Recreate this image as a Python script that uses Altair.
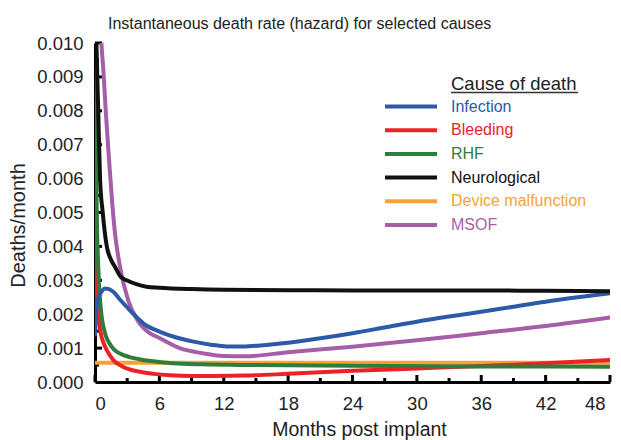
import altair as alt
import pandas as pd

# ---------------- data ----------------
causes = ["Infection", "Bleeding", "RHF", "Neurological", "Device malfunction", "MSOF"]
colors = ["#2c5aa8", "#ec2227", "#2f7d3b", "#111111", "#f9a231", "#a65ea9"]

infection_t = [0, 0.15, 0.35, 0.6, 0.93, 1.3, 1.7, 2.3, 2.95, 3.7, 4.5, 6.06, 7.5, 9.2,
               10.8, 12.3, 13.8, 15.4, 18, 21, 24, 27, 30, 33, 36, 39, 42, 45, 48]
infection_v = [0.00140, 0.00222, 0.00252, 0.00266, 0.00276, 0.00274, 0.00266, 0.00244,
               0.00222, 0.00197, 0.00173, 0.00148, 0.00132, 0.00119, 0.00110, 0.00105,
               0.00105, 0.00108, 0.00116, 0.00129, 0.00144, 0.00161, 0.00178, 0.00193,
               0.00207, 0.00222, 0.00237, 0.00250, 0.00262]

bleeding_t = [0, 0.04, 0.08, 0.12, 0.17, 0.3, 0.53, 0.8, 1.1, 1.7, 2.6, 4.2, 5.5, 7, 9,
              11, 14, 18, 24, 30, 36, 42, 48]
bleeding_v = [0.0110, 0.0090, 0.0060, 0.0038, 0.0027, 0.0020, 0.00144, 0.00115, 0.00094,
              0.00065, 0.00045, 0.00030, 0.00024, 0.00020, 0.00018, 0.00018, 0.00019,
              0.00024, 0.00033, 0.00040, 0.00047, 0.00055, 0.00065]

rhf_t = [0, 0.08, 0.15, 0.2, 0.28, 0.37, 0.5, 0.62, 0.93, 1.2, 1.55, 2.0, 2.6, 3.5, 4.5,
         6, 7.3, 10, 15, 24, 36, 48]
rhf_v = [0.0082, 0.0065, 0.0053, 0.0044, 0.0036, 0.0029, 0.0023, 0.00193, 0.00144,
         0.00122, 0.00104, 0.00090, 0.00080, 0.00071, 0.00065, 0.00059, 0.00055, 0.00052,
         0.00050, 0.00048, 0.00046, 0.00045]

neuro_t = [0, 0.15, 0.3, 0.47, 0.72, 1.1, 1.5, 1.86, 2.4, 2.95, 4, 4.8, 6, 9, 12, 18, 24,
           30, 36, 42, 48]
neuro_v = [0.0120, 0.0098, 0.0080, 0.0060, 0.0050, 0.0040, 0.0036, 0.0034, 0.0031, 0.0030,
           0.00287, 0.00281, 0.00278, 0.00274, 0.00272, 0.00271, 0.00270, 0.00270,
           0.00270, 0.00269, 0.00268]

device_t = [0, 12, 24, 36, 48]
device_v = [0.00057, 0.00057, 0.00057, 0.00057, 0.00057]

msof_t = [0.3, 0.6, 0.8, 1.0, 1.3, 1.6, 1.86, 2.33, 3.1, 4.0, 5.1, 6.0, 7.9, 10, 12, 14,
          18, 24, 30, 36, 42, 48]
msof_v = [0.0125, 0.0100, 0.0091, 0.0080, 0.0066, 0.0053, 0.0044, 0.0034, 0.0024, 0.0018,
          0.00144, 0.00130, 0.00100, 0.00085, 0.00077, 0.00076, 0.00088, 0.00104, 0.00123,
          0.00144, 0.00165, 0.00190]

x_ticks_major = [0, 6, 12, 18, 24, 30, 36, 42, 48]
x_ticks_minor = [3, 9, 15, 21, 27, 33, 39, 45]
y_ticks_major = [0.001, 0.002, 0.003, 0.004, 0.005, 0.006, 0.007, 0.008, 0.009, 0.010]
y_ticks_minor = [0.0005, 0.0015, 0.0025, 0.0035, 0.0045, 0.0055, 0.0065, 0.0075, 0.0085, 0.0095]
y_labels = [0, 0.001, 0.002, 0.003, 0.004, 0.005, 0.006, 0.007, 0.008, 0.009, 0.010]

title_text = "Instantaneous death rate (hazard) for selected causes"
legend_title = "Cause of death"

# ---------------- build tables (drawing order: first = bottom) ----------------
series = {
    "Device malfunction": (device_t, device_v),
    "Bleeding": (bleeding_t, bleeding_v),
    "RHF": (rhf_t, rhf_v),
    "MSOF": (msof_t, msof_v),
    "Infection": (infection_t, infection_v),
    "Neurological": (neuro_t, neuro_v),
}
df = pd.concat(
    [pd.DataFrame({"cause": k, "t": t, "v": v}) for k, (t, v) in series.items()],
    ignore_index=True,
)
legend_df = pd.DataFrame({"cause": causes})
legend_title_df = pd.DataFrame({"label": [legend_title]})

FONT = "Liberation Sans"
W, H = 515, 339

x_scale = alt.Scale(domain=[0, 48], nice=False, zero=False)
y_scale = alt.Scale(domain=[0, 0.010], nice=False)
color_scale = alt.Scale(domain=causes, range=colors)

x_axis = alt.Axis(values=x_ticks_major, title="Months post implant", ticks=False,
                  domainWidth=3, domainColor="#000", labelFontSize=18.5, labelPadding=12,
                  labelColor="#222", titleFontSize=19.5, titleFontWeight="normal",
                  titleColor="#222", titleX=264, titleY=53, titleBaseline="alphabetic",
                  labelOffset={"condition": {"test": "datum.value == 48", "value": -5}, "value": 0},
                  grid=False)
y_axis = alt.Axis(values=y_labels, format=".3f", title="Deaths/month", ticks=False,
                  domainWidth=3, domainColor="#000", labelFontSize=18.5, labelPadding=12,
                  labelColor="#222", titleFontSize=20, titleFontWeight="normal",
                  titleColor="#222", titleX=-77, titleY=182, titleBaseline="middle",
                  titleAlign="center", titleAngle=270, grid=False)

lines = alt.Chart(df).mark_line(strokeWidth=4, clip=True, interpolate="monotone",
                                strokeCap="round").encode(
    x=alt.X("t:Q", scale=x_scale, axis=x_axis),
    y=alt.Y("v:Q", scale=y_scale, axis=y_axis),
    color=alt.Color("cause:N", scale=color_scale, legend=None),
)

xmaj = alt.Chart(pd.DataFrame({"xt": x_ticks_major})).mark_rule(strokeWidth=3, color="#000").encode(
    x=alt.X("xt:Q", scale=x_scale, axis=x_axis), y=alt.value(H), y2=alt.value(H - 7))
xmin = alt.Chart(pd.DataFrame({"xt": x_ticks_minor})).mark_rule(strokeWidth=3, color="#000").encode(
    x=alt.X("xt:Q", scale=x_scale, axis=x_axis), y=alt.value(H), y2=alt.value(H - 4))
ymaj = alt.Chart(pd.DataFrame({"yt": y_ticks_major})).mark_rule(strokeWidth=3, color="#000").encode(
    y=alt.Y("yt:Q", scale=y_scale, axis=y_axis), x=alt.value(0), x2=alt.value(7))
ymin = alt.Chart(pd.DataFrame({"yt": y_ticks_minor})).mark_rule(strokeWidth=3, color="#000").encode(
    y=alt.Y("yt:Q", scale=y_scale, axis=y_axis), x=alt.value(0), x2=alt.value(4))

main = alt.layer(xmaj, xmin, ymaj, ymin, lines)

leg_y = alt.Y("cause:N", scale=alt.Scale(type="point", domain=causes, range=[63.5, 182], padding=0),
              axis=None)
leg_rules = alt.Chart(legend_df).mark_rule(strokeWidth=4).encode(
    x=alt.value(290), x2=alt.value(342), y=leg_y,
    color=alt.Color("cause:N", scale=color_scale, legend=None))
leg_text = alt.Chart(legend_df).mark_text(align="left", baseline="middle", fontSize=16,
                                          font=FONT).encode(
    x=alt.value(356), y=leg_y, text="cause:N",
    color=alt.Color("cause:N", scale=color_scale, legend=None))
leg_title = alt.Chart(legend_title_df).mark_text(align="left", baseline="middle", fontSize=18.5,
                                                 font=FONT, color="#222").encode(
    x=alt.value(356), y=alt.value(41), text="label:N")
leg_under = alt.Chart(legend_title_df).mark_rule(strokeWidth=1.3, color="#333").encode(
    x=alt.value(356), x2=alt.value(483), y=alt.value(49.5))

legend = alt.layer(leg_rules, leg_text, leg_title, leg_under)

chart = alt.layer(main, legend).resolve_scale(y="independent").properties(
    width=W, height=H,
    title=alt.TitleParams(title_text, anchor="start", dx=13, fontSize=16, font=FONT,
                          fontWeight="normal", color="#222", offset=2, frame="group"),
    autosize=alt.AutoSizeParams(type="none"),
    padding={"left": 87, "top": 35, "right": 3, "bottom": 58},
).configure_view(stroke=None).configure_axis(labelFont=FONT, titleFont=FONT).configure_text(font=FONT)

chart.save("out.html", embed_options={"renderer": "svg", "actions": False})
